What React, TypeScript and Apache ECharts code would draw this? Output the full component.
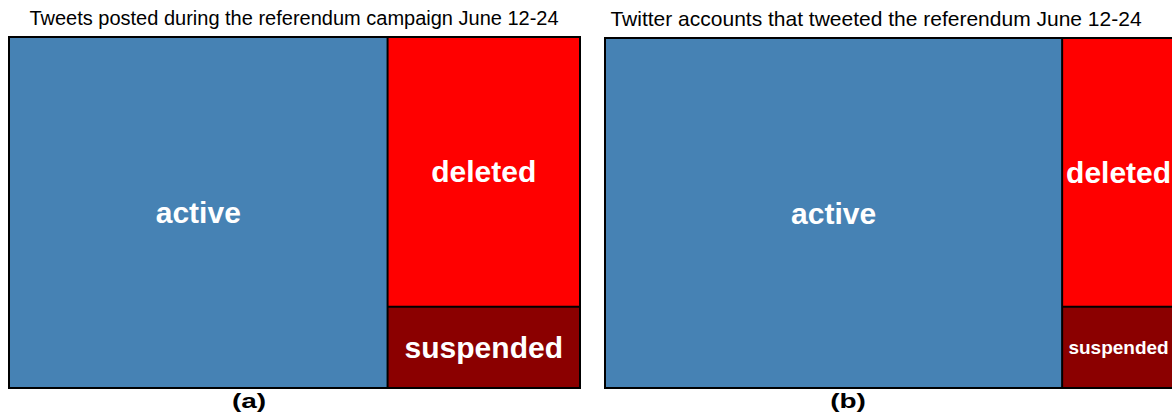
import React, { useEffect, useRef } from "react";
import * as echarts from "echarts";

const panelTitles = [
  "Tweets posted during the referendum campaign June 12-24",
  "Twitter accounts that tweeted the referendum June 12-24",
];
const panelTags = ["(a)", "(b)"];
const categories = ["active", "deleted", "suspended"];
const categoryColors = ["#4682B4", "#FF0000", "#8B0000"];
const tweetShares = [66.3, 25.9, 7.8];
const accountShares = [80.2, 15.2, 4.6];

const FONT = "'Liberation Sans', Arial, sans-serif";

function buildData(values: number[], smallIdx: number[] = []) {
  return categories.map((name, i) => ({
    name,
    value: values[i],
    itemStyle: { color: categoryColors[i] },
    label: smallIdx.includes(i) ? { fontSize: 19 } : undefined,
  }));
}

export default function App() {
  const ref = useRef<HTMLDivElement>(null);
  useEffect(() => {
    if (!ref.current) return;
    const chart = echarts.init(ref.current, undefined, { renderer: "svg" });
    const panels = [
      { left: 8, top: 36, width: 573, height: 353, data: buildData(tweetShares) },
      { left: 604, top: 37, width: 572, height: 352, data: buildData(accountShares, [2]) },
    ];
    chart.setOption({
      animation: false,
      backgroundColor: "#fff",
      graphic: [
        ...panelTitles.map((t, i) => ({
          type: "text",
          x: i === 0 ? 294 : 876,
          y: 18,
          style: {
            text: t,
            fontSize: i === 0 ? 20 : 21,
            fontFamily: FONT,
            fill: "#000",
            align: "center",
            verticalAlign: "middle",
          },
        })),
        ...panelTags.map((t, i) => ({
          type: "text",
          x: i === 0 ? 249 : 848,
          y: 401,
          scaleX: 1.4,
          style: {
            text: t,
            fontSize: 20,
            fontWeight: "bold",
            fontFamily: FONT,
            fill: "#000",
            align: "center",
            verticalAlign: "middle",
          },
        })),
      ],
      series: panels.map((p) => ({
        type: "treemap",
        left: p.left,
        top: p.top,
        width: p.width,
        height: p.height,
        roam: false,
        nodeClick: false,
        breadcrumb: { show: false },
        squareRatio: 0.5 * (1 + Math.sqrt(5)),
        label: {
          show: true,
          position: "inside",
          color: "#fff",
          fontSize: 30,
          fontWeight: "bold",
          fontFamily: FONT,
          overflow: "none",
          padding: 0,
        },
        levels: [
          { itemStyle: { borderWidth: 1, borderColor: "#000", gapWidth: 0 } },
          { itemStyle: { borderWidth: 1, borderColor: "#000", gapWidth: 0 } },
        ],
        emphasis: { disabled: true },
        data: p.data,
      })),
    });
    return () => chart.dispose();
  }, []);
  return (
    <div
      ref={ref}
      style={{ position: "fixed", left: 0, top: 0, width: 1172, height: 414 }}
    />
  );
}
